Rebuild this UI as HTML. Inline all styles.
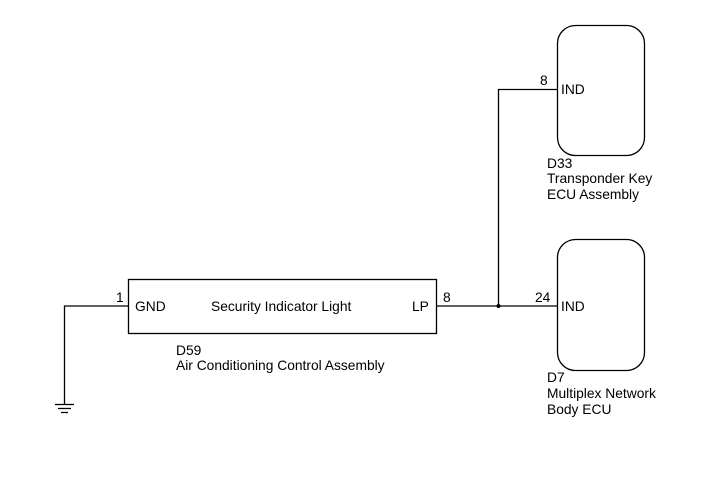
<!DOCTYPE html>
<html><head><style>body{margin:0;background:#fff}</style></head><body>
<svg width="713" height="481" xmlns="http://www.w3.org/2000/svg" font-family="Liberation Sans, Arial, sans-serif" font-size="13.8" fill="#000">
<g stroke="#000" stroke-width="1.3" fill="none">
<rect x="128.5" y="279.5" width="308" height="54"/>
<rect x="557.5" y="25.5" width="87" height="130" rx="18"/>
<rect x="557.5" y="239.5" width="87" height="131" rx="18"/>
<polyline points="128,306 64.5,306 64.5,404"/>
<line x1="437" y1="306" x2="557" y2="306"/>
<polyline points="498.5,306 498.5,89.5 557,89.5"/>
<line x1="55" y1="404.5" x2="74" y2="404.5"/>
<line x1="58" y1="408.5" x2="71" y2="408.5"/>
<line x1="61" y1="412.5" x2="68" y2="412.5"/>
</g>
<circle cx="498.5" cy="306" r="2"/>
<text x="116" y="302">1</text>
<text x="135" y="311">GND</text>
<text x="211" y="311">Security Indicator Light</text>
<text x="412" y="311">LP</text>
<text x="443" y="302">8</text>
<text x="535" y="302">24</text>
<text x="561" y="311">IND</text>
<text x="540" y="85">8</text>
<text x="561" y="94">IND</text>
<text x="176" y="355">D59</text>
<text x="176" y="370">Air Conditioning Control Assembly</text>
<text x="547" y="168">D33</text>
<text x="547" y="183">Transponder Key</text>
<text x="547" y="199">ECU Assembly</text>
<text x="547" y="382">D7</text>
<text x="547" y="398">Multiplex Network</text>
<text x="547" y="414">Body ECU</text>
</svg>
</body></html>
